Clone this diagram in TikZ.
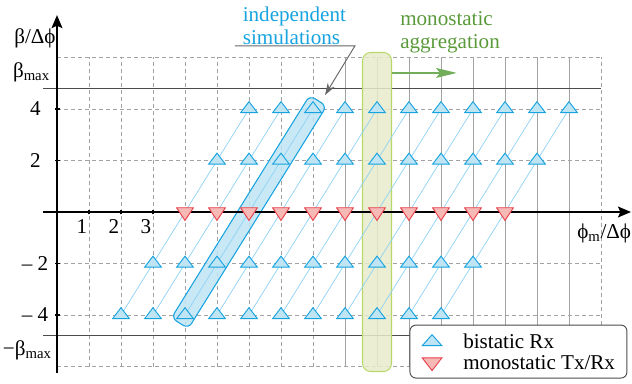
\documentclass[tikz,border=0pt]{standalone}
\usepackage{fontspec}
\setmainfont{Liberation Serif}
\usetikzlibrary{arrows.meta,shapes.geometric}

\definecolor{bisdraw}{HTML}{16A3E0}
\definecolor{bisfill}{HTML}{BFE4F4}
\definecolor{diagblue}{HTML}{8ED2F4}
\definecolor{monodraw}{HTML}{E8414B}
\definecolor{monofill}{HTML}{F6B9B6}
\definecolor{gridgray}{HTML}{A3A3A3}
\definecolor{aggdraw}{HTML}{B9D86C}
\definecolor{aggfill}{HTML}{E7EBCB}
\definecolor{aggtext}{HTML}{5A9A3A}
\definecolor{aggarrow}{HTML}{4F9A30}

\begin{document}
\begin{tikzpicture}[x=0.96cm, y=0.7725cm, font=\fontsize{18}{19.6}\selectfont]
        \tikzset{
          gridd/.style={draw=gridgray, line width=0.7pt, dash pattern=on 0.12cm off 0.09cm},
          grids/.style={draw=gridgray, line width=0.7pt},
          bmax/.style={draw=black!70, line width=1.1pt},
          axis/.style={line width=2pt, -{Stealth[length=0.39cm, width=0.32cm, inset=0.07cm]}},
          tck/.style={line width=1.6pt},
          diag/.style={draw=diagblue, line width=0.6pt},
          bis/.style={regular polygon, regular polygon sides=3, draw=bisdraw, fill=bisfill,
                      line width=0.8pt, minimum size=0.58cm, inner sep=0pt, yscale=0.76},
          mono/.style={regular polygon, regular polygon sides=3, draw=monodraw, fill=monofill,
                       line width=0.8pt, minimum size=0.58cm, inner sep=0pt, yscale=0.88,
                       shape border rotate=180},
          simband/.style={draw=bisdraw, fill=bisfill, fill opacity=0.85, line width=0.9pt,
                          rounded corners=0.18cm, minimum width=7.86cm, minimum height=0.6cm},
          aggband/.style={draw=aggdraw, fill=aggfill, fill opacity=0.85, line width=0.9pt,
                          rounded corners=0.24cm, minimum width=0.87cm, minimum height=9.57cm},
          pointer/.style={draw=black!60, line width=0.8pt, -{Stealth[length=0.36cm, width=0.24cm]}},
          aggline/.style={draw=aggarrow!80, line width=1pt, -{Stealth[length=0.62cm, width=0.3cm, inset=0.12cm]}},
          legbox/.style={draw=black!70, fill=white, line width=0.8pt, rounded corners=0.18cm,
                         minimum width=6.51cm, minimum height=1.59cm}
        }
        \useasboundingbox (-1.78125,-6.6796) rectangle (17.96875,8.2330);
        %% --- grid ---
        \foreach \c in {1,...,8} \draw[gridd] (\c,-6) -- (\c,6);
        \foreach \c in {9,...,16} \draw[grids] (\c,-6) -- (\c,6);
        \draw[gridd] (17,-6) -- (17,6);
        \foreach \r in {-6,-4,-2,2,4,6} \draw[gridd] (0,\r) -- (17,\r);
        \draw[bmax] (-0.44,4.8) -- (17,4.8);
        \draw[bmax] (-0.44,-4.8) -- (17,-4.8);
        %% --- highlighted bands ---
        \node[simband, rotate=58.15] (sim) at (6,0) {};
        \node[aggband] (agg) at (10,0) {};
        %% --- sample points (row tag, first column) ---
        \foreach \r/\t/\s in {-4/bm4/2, -2/bm2/3, 0/mo/4, 2/bp2/5, 4/bp4/6}
          \foreach \k in {0,...,10}
            \coordinate (\t-\k) at ({\s+\k},\r);
        \foreach \k in {0,...,10} \draw[diag] (bm4-\k) -- (bp4-\k);
        %% --- axes ---
        \coordinate (xs) at (-0.44,0);
        \coordinate (xe) at (17.94,0);
        \coordinate (ys) at (0,-6.25);
        \coordinate (ye) at (0,7.65);
        \draw[axis] (xs) -- (xe);
        \draw[axis] (ys) -- (ye);
        \foreach \c in {1,2,3} \draw[tck] (\c,-0.09) -- (\c,0.09);
        \foreach \r in {-4,-2,2,4} \draw[tck] (-0.05,\r) -- (0.1,\r);
        \node (ylab) at (-0.69,6.76) {β/Δϕ};
        \node (xlab) at (17.1,-0.82) {ϕ\textsubscript{m}/Δϕ};
        \node (bmaxp) at (-0.8,5.44) {β\textsubscript{max}};
        \node (bmaxm) at (-0.93,-5.36) {−β\textsubscript{max}};
        \foreach \r in {2,4} \node[anchor=east, inner sep=0pt] (yt\r) at (-0.5,\r) {\r};
        \foreach \r in {2,4} \node[anchor=east, inner sep=0pt] (ytm\r) at (-0.27,-\r) {– \r};
        \foreach \c in {1,2,3} \node (xt\c) at ({\c-0.22},-0.56) {\c};
        %% --- triangles ---
        \foreach \t in {bm4,bm2,bp2,bp4}
          \foreach \k in {0,...,10}
            \node[bis] (n\t-\k) at (\t-\k) {};
        \foreach \k in {0,...,10} \node[mono] (nmo-\k) at (mo-\k) {};
        %% --- annotations ---
        \node[anchor=west, align=left, text=bisdraw, inner sep=0pt] (simlab) at (5.8,7.24) {independent\\simulations};
        \coordinate (ula) at (5.56,6.45);
        \coordinate (ulb) at (9.31,6.45);
        \coordinate (ulc) at (8.375,4.54);
        \draw[pointer] (ula) -- (ulb) -- (ulc);
        \node[anchor=west, align=left, text=aggtext, inner sep=0pt] (agglab) at (10.72,6.97) {monostatic\\aggregation};
        \coordinate (aggtip) at (12.49,5.4);
        \draw[aggline] (agg.east |- aggtip) -- (aggtip);
        %% --- legend ---
        \node[legbox] (leg) at (14.42,-5.42) {};
        \node[bis, minimum size=0.68cm, yscale=0.85] (legb) at (11.72,-5.05) {};
        \node[mono, minimum size=0.68cm, yscale=0.85] (legm) at (11.72,-5.83) {};
        \node[anchor=west, inner sep=0pt] (legbt) at (12.69,-5.02) {bistatic Rx};
        \node[anchor=west, inner sep=0pt] (legmt) at (12.69,-5.83) {monostatic Tx/Rx};
    \end{tikzpicture}
\end{document}
